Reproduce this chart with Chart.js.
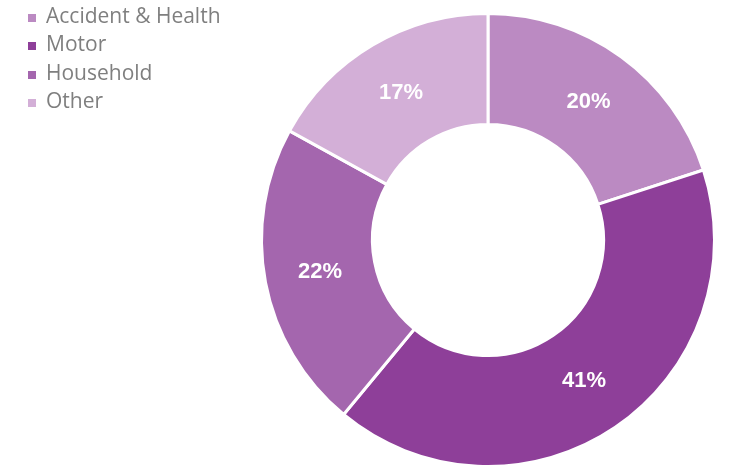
<!DOCTYPE html>
<html>
<head>
<meta charset="utf-8">
<script src="https://cdn.jsdelivr.net/npm/chart.js@4"></script>
<style>
html, body { margin:0; padding:0; background:#fff; }
#wrap { width:730px; height:469px; position:relative; }
#legend { position:absolute; left:28px; top:1px; margin:0; padding:0; list-style:none;
    font-family:"Open Sans", sans-serif; font-size:21px; color:#7f7f7f; }
#legend li { height:28.4px; line-height:28.4px; white-space:nowrap; }
#legend span { display:inline-block; width:8px; height:8px; margin-right:10px; vertical-align:1px; }
</style>
</head>
<body>
<div id="wrap">
    <canvas id="mix"></canvas>
    <ul id="legend"></ul>
</div>
<script>
// segments, clockwise from 12 o'clock
const labels = ['Accident & Health', 'Motor', 'Household', 'Other'];
const shares = [20, 41, 22, 17];
const colours = ['#BB8AC2', '#8E3F99', '#A466AE', '#D3AFD7'];

// white percentage text in the middle of each ring segment
const sliceLabels = {
    id: 'sliceLabels',
    afterDatasetsDraw(chart) {
        const ctx = chart.ctx;
        ctx.save();
        ctx.fillStyle = '#fff';
        ctx.font = 'bold 22px "Liberation Sans", Arial, sans-serif';
        ctx.textAlign = 'center';
        ctx.textBaseline = 'middle';
        chart.getDatasetMeta(0).data.forEach((arc, i) => {
            const p = arc.tooltipPosition();
            ctx.fillText(shares[i] + '%', p.x, p.y);
        });
        ctx.restore();
    }
};

const chart = new Chart(document.getElementById('mix'), {
    type: 'doughnut',
    data: {
        labels: labels,
        datasets: [{
            data: shares,
            backgroundColor: colours,
            borderColor: '#fff',
            borderWidth: 3
        }]
    },
    options: {
        responsive: true,
        maintainAspectRatio: false,
        animation: false,
        cutout: '51%',
        layout: { padding: { top: 12, bottom: 1, left: 246, right: 0 } },
        plugins: {
            tooltip: { enabled: false },
            legend: { display: false }
        }
    },
    plugins: [sliceLabels]
});

// legend list, built from the chart's own labels
document.getElementById('legend').innerHTML = chart.data.labels.map((l, i) =>
    `<li><span style="background:${colours[i]}"></span>${l}</li>`).join('');
</script>
</body>
</html>
